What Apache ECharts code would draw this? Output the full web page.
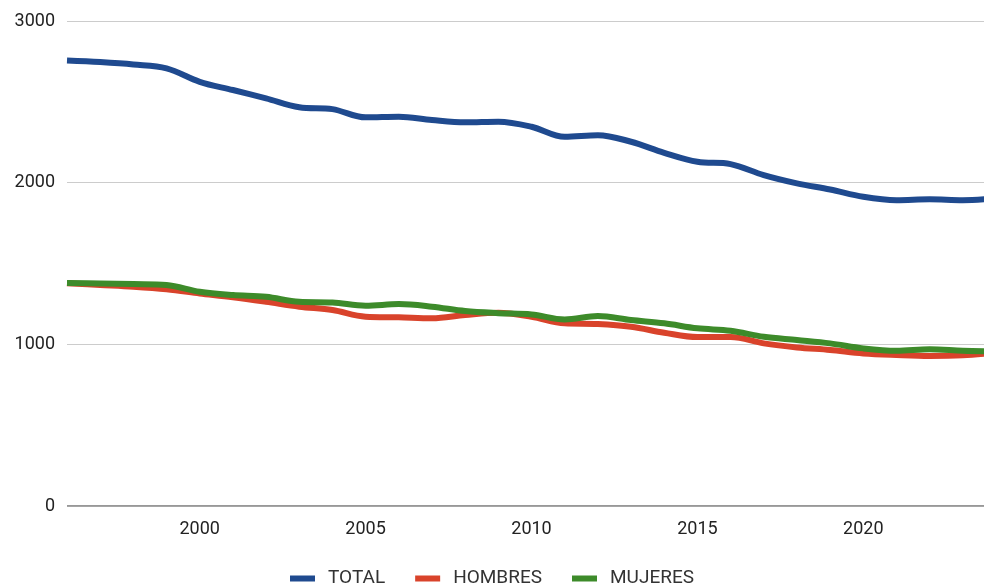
<!DOCTYPE html>
<html>
<head>
<meta charset="utf-8">
<script src="https://cdn.jsdelivr.net/npm/echarts@6/dist/echarts.min.js"></script>
<style>html,body{margin:0;padding:0;background:#fff}#c{width:984px;height:586px}</style>
</head>
<body>
<div id="c"></div>
<script>
const years = [1996,1997,1998,1999,2000,2001,2002,2003,2004,2005,2006,2007,2008,2009,2010,2011,2012,2013,2014,2015,2016,2017,2018,2019,2020,2021,2022,2023,2024];
const total =   [2756,2746,2731,2707,2624,2573,2521,2466,2455,2404,2408,2387,2373,2377,2346,2284,2294,2253,2185,2129,2115,2047,1996,1958,1913,1892,1897,1892,1903];
const hombres = [1378,1367,1356,1340,1315,1291,1263,1233,1212,1171,1167,1161,1181,1195,1171,1130,1126,1109,1072,1045,1045,1006,981,965,944,934,928,932,948];
const mujeres = [1380,1377,1373,1367,1325,1305,1294,1263,1259,1239,1249,1233,1206,1193,1185,1154,1175,1150,1130,1099,1084,1047,1027,1006,975,960,969,960,956];
const yTicks = [0,1000,2000,3000];

const chart = echarts.init(document.getElementById('c'));
const mk = (name, data, color) => ({
  name, type:'line', smooth:0.35, showSymbol:false, clip:true,
  data: years.map((y,i)=>[y,data[i]]),
  lineStyle:{width:6,color}, itemStyle:{color}
});
chart.setOption({
  animation:false,
  grid:{left:67,width:929,top:21,bottom:80,outerBoundsMode:'none',containLabel:false},
  legend:{top:564,left:'center',itemWidth:25,itemHeight:6,itemGap:30,icon:'rect',
    textStyle:{fontFamily:'Roboto',fontSize:19,color:'#333',padding:[0,0,0,8]},
    data:['TOTAL','HOMBRES','MUJERES']},
  xAxis:{type:'value',min:1996,max:2024,interval:1,
    axisLine:{show:false},axisTick:{show:false},splitLine:{show:false},
    axisLabel:{fontFamily:'Roboto',fontSize:18,color:'#222',margin:14,
      formatter:v=> v%5===0 ? String(v) : ''}},
  yAxis:{type:'value',min:0,max:3000,interval:1000,
    axisLine:{show:false},axisTick:{show:false},
    splitLine:{lineStyle:{color:'#cccccc',width:1}},
    axisLabel:{fontFamily:'Roboto',fontSize:18,color:'#222',margin:12,
      formatter:v=> yTicks.includes(v)?String(v):''}},
  series:[
    mk('TOTAL', total, '#1f4a8f'),
    mk('HOMBRES', hombres, '#d9432b'),
    mk('MUJERES', mujeres, '#3d8b2a'),
    {type:'line',silent:true,showSymbol:false,data:[[1996,0],[2024,0]],
     lineStyle:{color:'#333',width:1.2},z:1,tooltip:{show:false}}
  ]
});
</script>
</body>
</html>
